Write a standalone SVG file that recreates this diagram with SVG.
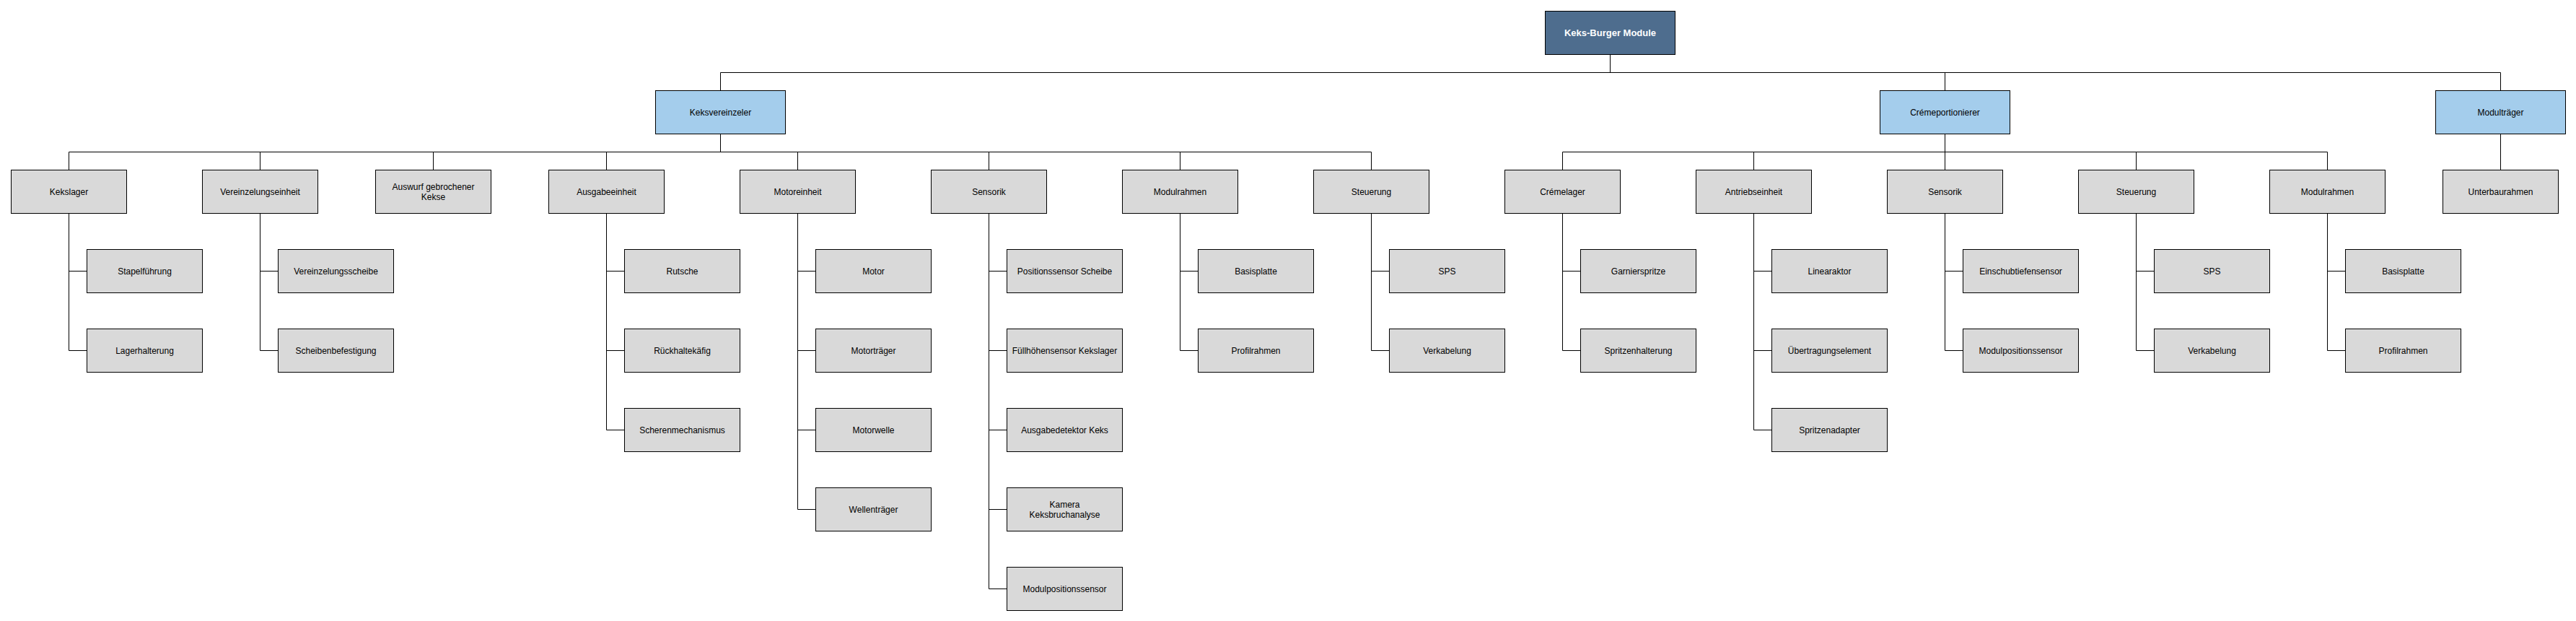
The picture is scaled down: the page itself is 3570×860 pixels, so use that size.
<svg xmlns="http://www.w3.org/2000/svg" width="3570" height="860" viewBox="0 0 3570 860">
<style>
rect{stroke:#000;stroke-width:1}
.root{fill:#4E6D8E}
.l1{fill:#A4CDEC}
.n{fill:#D9D9D9}
text{font-family:"Liberation Sans",Arial,sans-serif;font-size:12px;fill:#000;text-anchor:middle}
.rt{font-size:13px;font-weight:bold;fill:#fff}
#connectors path{fill:none;stroke:#000;stroke-width:1}
</style>
<rect width="3570" height="860" fill="#fff" style="stroke:none"/>
<g id="connectors">
<path d="M2231.5 75.5V100.5M998.5 100.5H3465.5M998.5 100.5V125.5M2695.5 100.5V125.5M3465.5 100.5V125.5"/>
<path d="M998.5 185.5V210.5M95.5 210.5H1900.5M95.5 210.5V235.5M360.5 210.5V235.5M600.5 210.5V235.5M840.5 210.5V235.5M1105.5 210.5V235.5M1370.5 210.5V235.5M1635.5 210.5V235.5M1900.5 210.5V235.5"/>
<path d="M2695.5 185.5V235.5M2165.5 210.5H3225.5M2165.5 210.5V235.5M2430.5 210.5V235.5M2960.5 210.5V235.5M3225.5 210.5V235.5"/>
<path d="M3465.5 185.5V235.5"/>
<path d="M95.5 295.5V485.5M95.5 375.5H120.5M95.5 485.5H120.5"/>
<path d="M360.5 295.5V485.5M360.5 375.5H385.5M360.5 485.5H385.5"/>
<path d="M840.5 295.5V595.5M840.5 375.5H865.5M840.5 485.5H865.5M840.5 595.5H865.5"/>
<path d="M1105.5 295.5V705.5M1105.5 375.5H1130.5M1105.5 485.5H1130.5M1105.5 595.5H1130.5M1105.5 705.5H1130.5"/>
<path d="M1370.5 295.5V815.5M1370.5 375.5H1395.5M1370.5 485.5H1395.5M1370.5 595.5H1395.5M1370.5 705.5H1395.5M1370.5 815.5H1395.5"/>
<path d="M1635.5 295.5V485.5M1635.5 375.5H1660.5M1635.5 485.5H1660.5"/>
<path d="M1900.5 295.5V485.5M1900.5 375.5H1925.5M1900.5 485.5H1925.5"/>
<path d="M2165.5 295.5V485.5M2165.5 375.5H2190.5M2165.5 485.5H2190.5"/>
<path d="M2430.5 295.5V595.5M2430.5 375.5H2455.5M2430.5 485.5H2455.5M2430.5 595.5H2455.5"/>
<path d="M2695.5 295.5V485.5M2695.5 375.5H2720.5M2695.5 485.5H2720.5"/>
<path d="M2960.5 295.5V485.5M2960.5 375.5H2985.5M2960.5 485.5H2985.5"/>
<path d="M3225.5 295.5V485.5M3225.5 375.5H3250.5M3225.5 485.5H3250.5"/>
</g>
<g id="root"><rect class="root" x="2141.5" y="15.5" width="180" height="60"/><text class="rt" x="2231.5" y="50">Keks-Burger Module</text></g>
<g id="keksvereinzeler"><rect class="l1" x="908.5" y="125.5" width="180" height="60"/><text x="998.5" y="160">Keksvereinzeler</text></g>
<g id="cremeportionierer"><rect class="l1" x="2605.5" y="125.5" width="180" height="60"/><text x="2695.5" y="160">Crémeportionierer</text></g>
<g id="modultraeger"><rect class="l1" x="3375.5" y="125.5" width="180" height="60"/><text x="3465.5" y="160">Modulträger</text></g>

<g id="kekslager"><rect class="n" x="15.5" y="235.5" width="160" height="60"/><text x="95.5" y="270">Kekslager</text></g>
<g id="stapelfuehrung"><rect class="n" x="120.5" y="345.5" width="160" height="60"/><text x="200.5" y="380">Stapelführung</text></g>
<g id="lagerhalterung"><rect class="n" x="120.5" y="455.5" width="160" height="60"/><text x="200.5" y="490">Lagerhalterung</text></g>

<g id="vereinzelungseinheit"><rect class="n" x="280.5" y="235.5" width="160" height="60"/><text x="360.5" y="270">Vereinzelungseinheit</text></g>
<g id="vereinzelungsscheibe"><rect class="n" x="385.5" y="345.5" width="160" height="60"/><text x="465.5" y="380">Vereinzelungsscheibe</text></g>
<g id="scheibenbefestigung"><rect class="n" x="385.5" y="455.5" width="160" height="60"/><text x="465.5" y="490">Scheibenbefestigung</text></g>

<g id="auswurf"><rect class="n" x="520.5" y="235.5" width="160" height="60"/><text x="600.5" y="262.5">Auswurf gebrochener<tspan x="600.5" dy="14.5">Kekse</tspan></text></g>

<g id="ausgabeeinheit"><rect class="n" x="760.5" y="235.5" width="160" height="60"/><text x="840.5" y="270">Ausgabeeinheit</text></g>
<g id="rutsche"><rect class="n" x="865.5" y="345.5" width="160" height="60"/><text x="945.5" y="380">Rutsche</text></g>
<g id="rueckhaltekaefig"><rect class="n" x="865.5" y="455.5" width="160" height="60"/><text x="945.5" y="490">Rückhaltekäfig</text></g>
<g id="scherenmechanismus"><rect class="n" x="865.5" y="565.5" width="160" height="60"/><text x="945.5" y="600">Scherenmechanismus</text></g>

<g id="motoreinheit"><rect class="n" x="1025.5" y="235.5" width="160" height="60"/><text x="1105.5" y="270">Motoreinheit</text></g>
<g id="motor"><rect class="n" x="1130.5" y="345.5" width="160" height="60"/><text x="1210.5" y="380">Motor</text></g>
<g id="motortraeger"><rect class="n" x="1130.5" y="455.5" width="160" height="60"/><text x="1210.5" y="490">Motorträger</text></g>
<g id="motorwelle"><rect class="n" x="1130.5" y="565.5" width="160" height="60"/><text x="1210.5" y="600">Motorwelle</text></g>
<g id="wellentraeger"><rect class="n" x="1130.5" y="675.5" width="160" height="60"/><text x="1210.5" y="710">Wellenträger</text></g>

<g id="sensorik1"><rect class="n" x="1290.5" y="235.5" width="160" height="60"/><text x="1370.5" y="270">Sensorik</text></g>
<g id="positionssensor"><rect class="n" x="1395.5" y="345.5" width="160" height="60"/><text x="1475.5" y="380">Positionssensor Scheibe</text></g>
<g id="fuellhoehensensor"><rect class="n" x="1395.5" y="455.5" width="160" height="60"/><text x="1475.5" y="490">Füllhöhensensor Kekslager</text></g>
<g id="ausgabedetektor"><rect class="n" x="1395.5" y="565.5" width="160" height="60"/><text x="1475.5" y="600">Ausgabedetektor Keks</text></g>
<g id="kamera"><rect class="n" x="1395.5" y="675.5" width="160" height="60"/><text x="1475.5" y="702.5">Kamera<tspan x="1475.5" dy="14.5">Keksbruchanalyse</tspan></text></g>
<g id="modulpositionssensor1"><rect class="n" x="1395.5" y="785.5" width="160" height="60"/><text x="1475.5" y="820">Modulpositionssensor</text></g>

<g id="modulrahmen1"><rect class="n" x="1555.5" y="235.5" width="160" height="60"/><text x="1635.5" y="270">Modulrahmen</text></g>
<g id="basisplatte1"><rect class="n" x="1660.5" y="345.5" width="160" height="60"/><text x="1740.5" y="380">Basisplatte</text></g>
<g id="profilrahmen1"><rect class="n" x="1660.5" y="455.5" width="160" height="60"/><text x="1740.5" y="490">Profilrahmen</text></g>

<g id="steuerung1"><rect class="n" x="1820.5" y="235.5" width="160" height="60"/><text x="1900.5" y="270">Steuerung</text></g>
<g id="sps1"><rect class="n" x="1925.5" y="345.5" width="160" height="60"/><text x="2005.5" y="380">SPS</text></g>
<g id="verkabelung1"><rect class="n" x="1925.5" y="455.5" width="160" height="60"/><text x="2005.5" y="490">Verkabelung</text></g>

<g id="cremelager"><rect class="n" x="2085.5" y="235.5" width="160" height="60"/><text x="2165.5" y="270">Crémelager</text></g>
<g id="garnierspritze"><rect class="n" x="2190.5" y="345.5" width="160" height="60"/><text x="2270.5" y="380">Garnierspritze</text></g>
<g id="spritzenhalterung"><rect class="n" x="2190.5" y="455.5" width="160" height="60"/><text x="2270.5" y="490">Spritzenhalterung</text></g>

<g id="antriebseinheit"><rect class="n" x="2350.5" y="235.5" width="160" height="60"/><text x="2430.5" y="270">Antriebseinheit</text></g>
<g id="linearaktor"><rect class="n" x="2455.5" y="345.5" width="160" height="60"/><text x="2535.5" y="380">Linearaktor</text></g>
<g id="uebertragungselement"><rect class="n" x="2455.5" y="455.5" width="160" height="60"/><text x="2535.5" y="490">Übertragungselement</text></g>
<g id="spritzenadapter"><rect class="n" x="2455.5" y="565.5" width="160" height="60"/><text x="2535.5" y="600">Spritzenadapter</text></g>

<g id="sensorik2"><rect class="n" x="2615.5" y="235.5" width="160" height="60"/><text x="2695.5" y="270">Sensorik</text></g>
<g id="einschubtiefensensor"><rect class="n" x="2720.5" y="345.5" width="160" height="60"/><text x="2800.5" y="380">Einschubtiefensensor</text></g>
<g id="modulpositionssensor2"><rect class="n" x="2720.5" y="455.5" width="160" height="60"/><text x="2800.5" y="490">Modulpositionssensor</text></g>

<g id="steuerung2"><rect class="n" x="2880.5" y="235.5" width="160" height="60"/><text x="2960.5" y="270">Steuerung</text></g>
<g id="sps2"><rect class="n" x="2985.5" y="345.5" width="160" height="60"/><text x="3065.5" y="380">SPS</text></g>
<g id="verkabelung2"><rect class="n" x="2985.5" y="455.5" width="160" height="60"/><text x="3065.5" y="490">Verkabelung</text></g>

<g id="modulrahmen2"><rect class="n" x="3145.5" y="235.5" width="160" height="60"/><text x="3225.5" y="270">Modulrahmen</text></g>
<g id="basisplatte2"><rect class="n" x="3250.5" y="345.5" width="160" height="60"/><text x="3330.5" y="380">Basisplatte</text></g>
<g id="profilrahmen2"><rect class="n" x="3250.5" y="455.5" width="160" height="60"/><text x="3330.5" y="490">Profilrahmen</text></g>

<g id="unterbaurahmen"><rect class="n" x="3385.5" y="235.5" width="160" height="60"/><text x="3465.5" y="270">Unterbaurahmen</text></g>
</svg>
